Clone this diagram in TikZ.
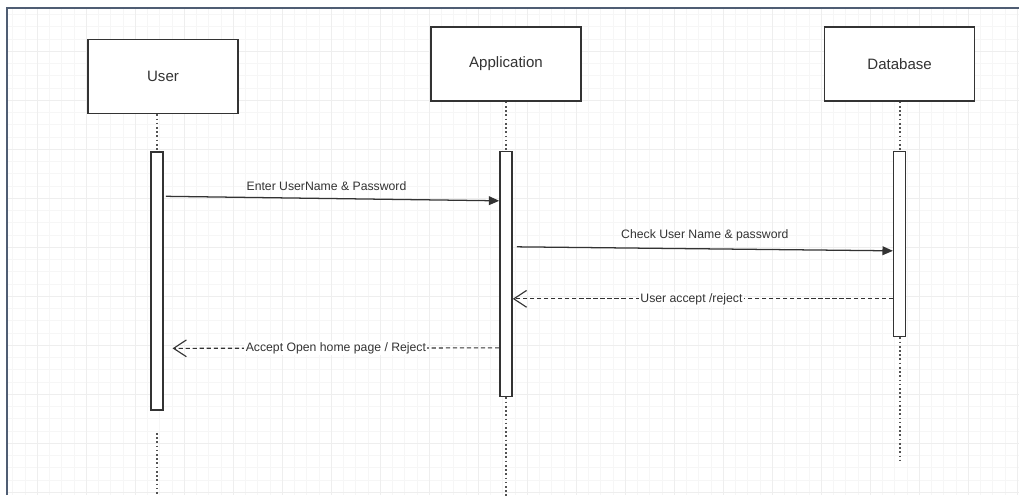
\documentclass[tikz,border=0pt]{standalone}
\usepackage{fontspec}
\setmainfont{Liberation Sans}
\usetikzlibrary{arrows.meta,positioning}
\definecolor{seqgray}{HTML}{333333}
\definecolor{framecol}{HTML}{4F5D73}
\tikzset{>=latex}
\tikzset{seq-grid-minor/.style={line width=0.3pt, draw=gray!7}}
\tikzset{seq-grid-major/.style={line width=0.5pt, draw=gray!13}}
\tikzset{seq-actor/.style={draw=seqgray, line width=1.1pt, fill=white, minimum width=3.75cm, minimum height=1.85cm, inner sep=0, text=seqgray, font=\fontsize{10.7}{12}\selectfont}}
\tikzset{seq-bar/.style={draw=seqgray, line width=1.1pt, fill=white, minimum width=0.3cm, inner sep=0}}
\tikzset{seq-life/.style={draw=seqgray!85, line width=1.2pt, dash pattern=on 1.2pt off 1.8pt}}
\tikzset{seq-call/.style={draw=seqgray, line width=0.9pt, -{Triangle[length=2.6mm,width=2.2mm]}}}
\tikzset{seq-reply/.style={draw=seqgray, line width=0.8pt, dash pattern=on 3pt off 2pt, -{Straight Barb[length=3.2mm,width=4.2mm]}}}
\tikzset{seq-label/.style={text=seqgray, font=\fontsize{8.7}{10}\selectfont, inner sep=1pt}}

\begin{document}
\begin{tikzpicture}[x=0.025cm, y=-0.025cm]
            \useasboundingbox (0,0) rectangle (1019,495);
            \fill[white] (0,0) rectangle (1019,495);

            % background grid
            \foreach \gx in {12.5,24.75,...,1019} \draw[seq-grid-minor] (\gx,9) -- (\gx,495);
            \foreach \gy in {14.25,26.5,...,495} \draw[seq-grid-minor] (8,\gy) -- (1019,\gy);
            \foreach \gx in {37,86,...,1019} \draw[seq-grid-major] (\gx,9) -- (\gx,495);
            \foreach \gy in {51,100,...,495} \draw[seq-grid-major] (8,\gy) -- (1019,\gy);
            \draw[framecol, line width=1.2pt] (7,495) -- (7,8) -- (1019,8);

            \node[seq-actor] (user) at (163,76.5) {User};
            \node[seq-actor] (app) at (506,64) {Application};
            \node[seq-actor, right=6.05cm of app] (db) {Database};

            \node[seq-bar, minimum height=6.45cm, below=0.925cm of user.south, xshift=-0.15cm] (userbar) {};
            \node[seq-bar, minimum height=6.125cm, below=1.225cm of app] (appbar) {};
            \node[seq-bar, minimum height=4.625cm, below=1.225cm of db] (dbbar) {};

            \coordinate[below=2.175cm of userbar.south] (userend);
            \coordinate[below=2.5cm of appbar.south] (append);
            \coordinate[below=3.125cm of dbbar.south] (dbend);

            \draw[seq-life] (user.south -| userbar.north) -- (userbar.north);
            \draw[seq-life] (app) -- (appbar);
            \draw[seq-life] (db) -- (dbbar);
            \draw[seq-life] ([yshift=-0.55cm]userbar.south) -- (userend);
            \draw[seq-life] (appbar.south) -- (append);
            \draw[seq-life] (dbbar.south) -- (dbend);

            \draw[seq-call] ([xshift=0.05cm, yshift=-1.125cm]userbar.north east) -- node[seq-label, above=4pt, xshift=-0.15cm] {Enter UserName \& Password} ([yshift=-1.25cm]appbar.north west);
            \draw[seq-call] ([xshift=0.1cm, yshift=-2.4cm]appbar.north east) -- node[seq-label, above=4pt] {Check User Name \& password} ([yshift=-2.5cm]dbbar.north west);
            \draw[seq-reply] ([yshift=-3.7cm]dbbar.north west) -- node[seq-label, fill=white, pos=0.53] {User accept /reject} ([yshift=-3.7cm]appbar.north east);
            \draw[seq-reply] ([yshift=-4.925cm]appbar.north west) -- node[seq-label, fill=white] {Accept Open home page / Reject} ([xshift=0.22cm, yshift=-4.925cm]userbar.north east);

        \end{tikzpicture}
\end{document}
